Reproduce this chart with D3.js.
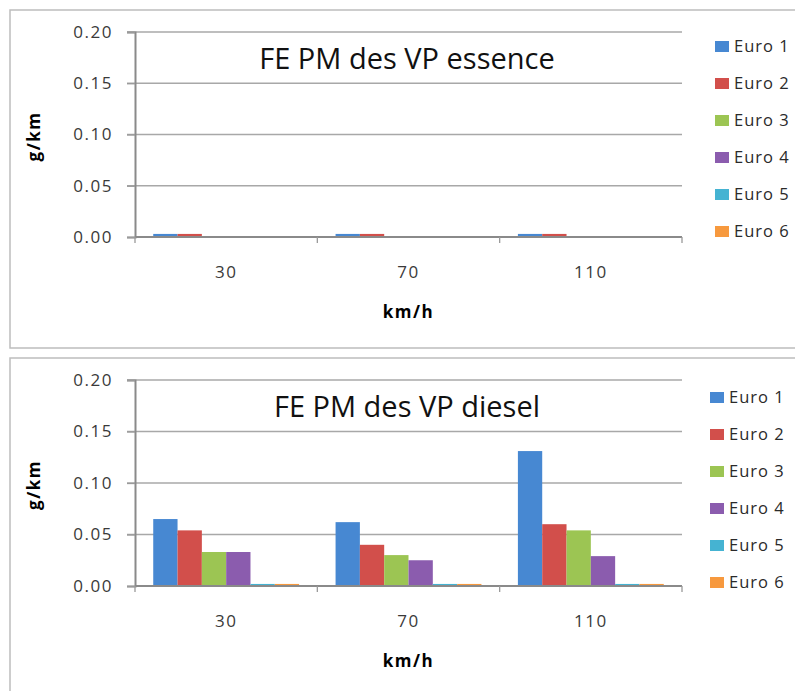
<!DOCTYPE html>
<html lang="fr">
<head>
<meta charset="utf-8">
<title>FE PM des VP</title>
<script src="https://cdn.jsdelivr.net/npm/d3@7"></script>
<style>
  body { margin: 0; background: #fff; }
  text { font-family: "Open Sans", sans-serif; }
</style>
</head>
<body>
<script>
// speeds (km/h) and Euro standards
var speeds = ["30", "70", "110"];
var euroNames = ["Euro 1", "Euro 2", "Euro 3", "Euro 4", "Euro 5", "Euro 6"];
var euroColors = ["#4788d2", "#d24f4b", "#9cc553", "#8b5cae", "#45b3d2", "#f7993e"];
var yTicks = [0, 0.05, 0.1, 0.15, 0.2];

// g/km per Euro class, one row per speed
var essence30 = [0.003, 0.003, 0.0004, 0.0004, 0.0004, 0.0004];
var essence70 = [0.003, 0.003, 0.0004, 0.0004, 0.0004, 0.0004];
var essence110 = [0.003, 0.003, 0.0004, 0.0004, 0.0004, 0.0004];

var diesel30 = [0.065, 0.054, 0.033, 0.033, 0.002, 0.002];
var diesel70 = [0.062, 0.040, 0.030, 0.025, 0.002, 0.002];
var diesel110 = [0.131, 0.060, 0.054, 0.029, 0.002, 0.002];

var w = 795, h = 691;

var svg = d3.select("body").append("svg")
    .attr("width", w)
    .attr("height", h);

function drawPanel(opts) {
  var g = svg.append("g");

  // outer chart frame
  g.append("rect")
    .attr("x", opts.frame[0]).attr("y", opts.frame[1])
    .attr("width", opts.frame[2]).attr("height", opts.frame[3])
    .attr("fill", "none")
    .attr("stroke", "#bdbdbd")
    .attr("stroke-width", 1.5);

  var x0 = d3.scaleBand().domain(speeds).range([opts.left, opts.right]);
  var x1 = d3.scaleBand().domain(euroNames).range([0, x0.bandwidth()])
      .paddingInner(0).paddingOuter(0.75);
  var y = d3.scaleLinear().domain([0, 0.2]).range([opts.bottom, opts.top]);

  // gridlines
  g.selectAll(".grid")
    .data(yTicks.slice(1))
    .enter().append("line")
    .attr("x1", opts.left - 8).attr("x2", opts.right)
    .attr("y1", function(d) { return y(d); })
    .attr("y2", function(d) { return y(d); })
    .attr("stroke", "#a8a8a8")
    .attr("stroke-width", 1.3);

  // y axis
  var yAxis = d3.axisLeft(y).tickValues(yTicks).tickFormat(d3.format(".2f"))
      .tickSize(8).tickPadding(14);
  var ya = g.append("g").attr("transform", "translate(" + opts.left + ",0)").call(yAxis);
  ya.select(".domain").attr("stroke", "#8a8a8a").attr("stroke-width", 2);
  ya.selectAll(".tick line").attr("stroke", "#9a9a9a").attr("stroke-width", 1.3);
  ya.selectAll(".tick text")
    .attr("font-size", 17)
    .attr("fill", "#3a3a3a")
    .style("font-family", "'Open Sans', sans-serif")
    .style("letter-spacing", "1.5px");

  // bars
  var rows = speeds.map(function(s, i) {
    return { speed: s, values: opts.values[i] };
  });
  var groups = g.selectAll(".grp")
    .data(rows)
    .enter().append("g")
    .attr("transform", function(d) { return "translate(" + x0(d.speed) + ",0)"; });
  groups.selectAll("rect")
    .data(function(d) { return d.values.map(function(v, j) { return { name: euroNames[j], v: v }; }); })
    .enter().append("rect")
    .attr("x", function(d) { return x1(d.name); })
    .attr("y", function(d) { return y(d.v); })
    .attr("width", x1.bandwidth())
    .attr("height", function(d) { return y(0) - y(d.v); })
    .attr("fill", function(d, j) { return euroColors[j]; });

  // x axis (category boundaries as ticks)
  g.append("line")
    .attr("x1", opts.left).attr("x2", opts.right)
    .attr("y1", y(0)).attr("y2", y(0))
    .attr("stroke", "#8a8a8a").attr("stroke-width", 2);
  var bounds = speeds.map(function(s) { return x0(s); }).concat([opts.right]);
  g.selectAll(".xt")
    .data(bounds)
    .enter().append("line")
    .attr("x1", function(d) { return d; }).attr("x2", function(d) { return d; })
    .attr("y1", y(0)).attr("y2", y(0) + 6)
    .attr("stroke", "#9a9a9a").attr("stroke-width", 1.3);
  g.selectAll(".xl")
    .data(speeds)
    .enter().append("text")
    .attr("x", function(d) { return x0(d) + x0.bandwidth() / 2; })
    .attr("y", y(0) + 41)
    .attr("text-anchor", "middle")
    .attr("font-size", 17)
    .attr("fill", "#3a3a3a")
    .style("letter-spacing", "1.5px")
    .text(function(d) { return d; });

  // axis titles
  g.append("text")
    .attr("x", (opts.left + opts.right) / 2)
    .attr("y", y(0) + 81)
    .attr("text-anchor", "middle")
    .attr("font-size", 17)
    .attr("font-weight", "bold")
    .style("letter-spacing", "1.5px")
    .text("km/h");
  g.append("text")
    .attr("transform", "translate(40," + ((opts.top + opts.bottom) / 2 + 2) + ") rotate(-90)")
    .attr("text-anchor", "middle")
    .attr("font-size", 17)
    .attr("font-weight", "bold")
    .style("letter-spacing", "1.5px")
    .text("g/km");

  // chart title
  g.append("text")
    .attr("x", 407)
    .attr("y", opts.top + 37)
    .attr("text-anchor", "middle")
    .attr("font-size", 29)
    .attr("fill", "#111")
    .text(opts.title);

  // legend
  var leg = g.selectAll(".leg")
    .data(euroNames)
    .enter().append("g")
    .attr("transform", function(d, i) { return "translate(" + opts.legendX + "," + (opts.legendY + i * 37) + ")"; });
  leg.append("rect")
    .attr("x", 0).attr("y", -5)
    .attr("width", 14).attr("height", 11)
    .attr("fill", function(d, i) { return euroColors[i]; });
  leg.append("text")
    .attr("x", 19).attr("y", 6)
    .attr("font-size", 16.5)
    .attr("fill", "#2a2a2a")
    .style("letter-spacing", "1px")
    .text(function(d) { return d; });
}

drawPanel({
  title: "FE PM des VP essence",
  values: [essence30, essence70, essence110],
  frame: [10, 10, 800, 338],
  left: 135, right: 682, top: 32, bottom: 237,
  legendX: 715, legendY: 46
});

drawPanel({
  title: "FE PM des VP diesel",
  values: [diesel30, diesel70, diesel110],
  frame: [10, 358, 800, 360],
  left: 135, right: 682, top: 380, bottom: 586,
  legendX: 710, legendY: 397
});
</script>
</body>
</html>
